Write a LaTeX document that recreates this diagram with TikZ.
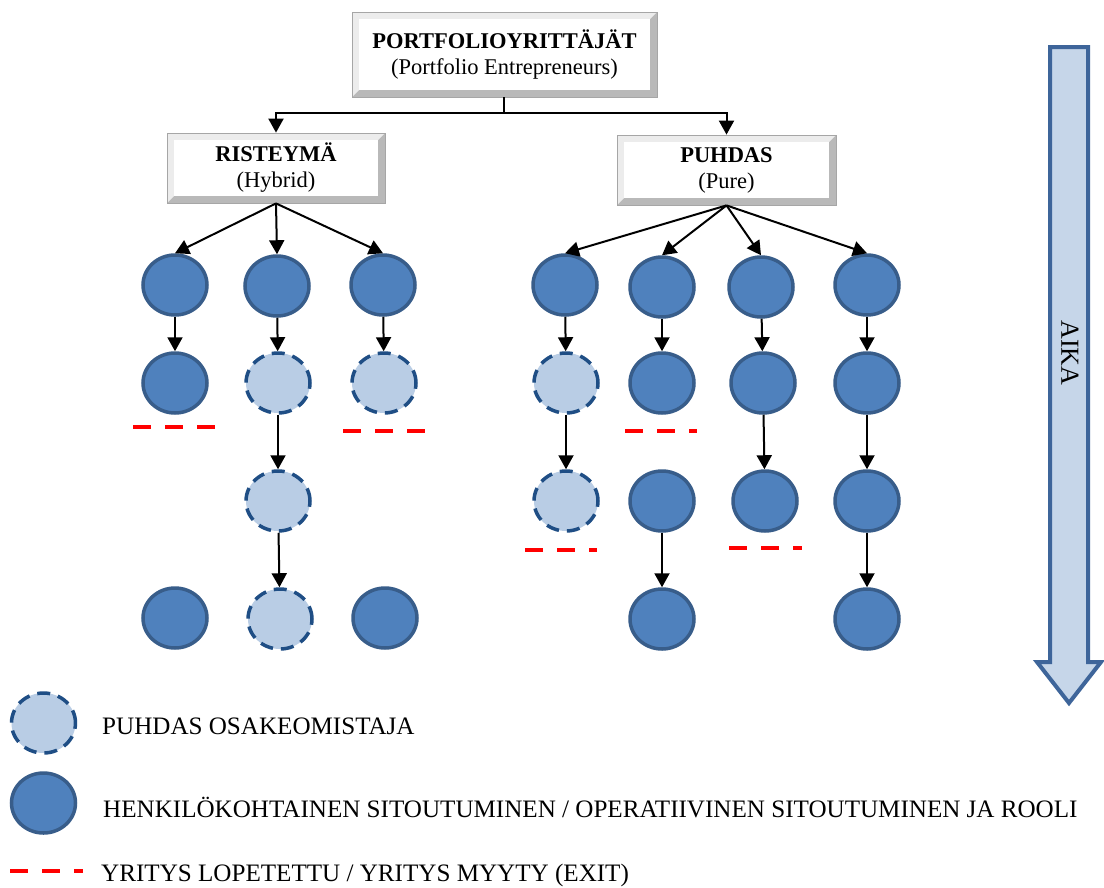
\documentclass[tikz,border=0pt]{standalone}
\usepackage{fontspec}
\setmainfont{Liberation Serif}
\usetikzlibrary{shapes.geometric,arrows.meta}
\definecolor{darkfill}{HTML}{4F81BD}
\definecolor{darkline}{HTML}{385D8A}
\definecolor{lightfill}{HTML}{B9CDE5}
\definecolor{lightline}{HTML}{1F4E85}
\definecolor{timefill}{HTML}{C6D6E9}
\definecolor{timeline}{HTML}{3E659A}
\tikzset{
  full/.style={ellipse, minimum width=64pt, minimum height=60pt, inner sep=0pt,
    fill=darkfill, draw=darkline, line width=3.5pt},
  share/.style={ellipse, minimum width=64pt, minimum height=60pt, inner sep=0pt,
    fill=lightfill, draw=lightline, line width=3.5pt, dash pattern=on 13pt off 8pt},
  arr/.style={-{Triangle[width=15pt,length=14pt]}, line width=2pt, black},
  plain/.style={line width=2pt, black},
  exitline/.style={red, line width=4pt, dash pattern=on 18pt off 14pt},
  txt/.style={font=\fontsize{22.5}{26}\selectfont},
  legtxt/.style={font=\fontsize{25.1}{29}\selectfont, anchor=base west, inner sep=0pt},
  bevelbox/.style={rectangle, inner sep=0pt, align=center, txt,
    draw=gray!70, line width=0.8pt,
    path picture={
      \fill[gray!55] (path picture bounding box.south west) rectangle (path picture bounding box.north east);
      \fill[gray!15] (path picture bounding box.south west) -- (path picture bounding box.north west)
        -- (path picture bounding box.north east) -- ([shift={(-7pt,-7pt)}]path picture bounding box.north east)
        -- ([shift={(7pt,-7pt)}]path picture bounding box.north west) -- ([shift={(7pt,7pt)}]path picture bounding box.south west) -- cycle;
      \fill[white] ([shift={(7pt,7pt)}]path picture bounding box.south west) rectangle ([shift={(-7pt,-7pt)}]path picture bounding box.north east);
    }},
}
\begin{document}
\begin{tikzpicture}[x=1pt,y=-1pt]
\useasboundingbox[fill=white] (0,0) rectangle (1104,887);

% boxes
\node[bevelbox, minimum width=305pt, minimum height=85pt] (top) at (504.5,54.5)
  {\textbf{PORTFOLIOYRITTÄJÄT}\\(Portfolio Entrepreneurs)};
\node[bevelbox, minimum width=218pt, minimum height=70pt] (hyb) at (276,168)
  {\textbf{RISTEYMÄ}\\(Hybrid)};
\node[bevelbox, minimum width=219pt, minimum height=70pt] (pur) at (726.5,170)
  {\textbf{PUHDAS}\\(Pure)};

\coordinate (j) at (504,113);
\draw[plain] (top.south -| j) -- (j);
\draw[arr] (j) -| (hyb.north);
\draw[arr] (j) -| (pur.north);

% hybrid circles
\node[full]  (h11) at (175,285) {};
\node[full]  (h12) at (175,383) {};
\node[full]  (h14) at (175,618) {};
\node[full]  (h21) at (277,286) {};
\node[share] (h22) at (278,383) {};
\node[share] (h23) at (278,501) {};
\node[share] (h24) at (280,619) {};
\node[full]  (h31) at (383,285) {};
\node[share] (h32) at (384,383) {};
\node[full]  (h34) at (385,618) {};

% pure circles
\node[full]  (p11) at (565,285) {};
\node[share] (p12) at (566,383) {};
\node[share] (p13) at (566,501) {};
\node[full]  (p21) at (662,287) {};
\node[full]  (p22) at (662,383) {};
\node[full]  (p23) at (662,501) {};
\node[full]  (p24) at (662,619) {};
\node[full]  (p31) at (761,287) {};
\node[full]  (p32) at (763,383) {};
\node[full]  (p33) at (765,501) {};
\node[full]  (p41) at (867,285) {};
\node[full]  (p42) at (867,383) {};
\node[full]  (p43) at (867,501) {};
\node[full]  (p44) at (867,619) {};

% arrows hybrid
\draw[arr] (hyb.south) -- (h11.north);
\draw[arr] (hyb.south) -- (h21.north);
\draw[arr] (hyb.south) -- (h31.north);
\draw[arr] (h11) -- (h12);
\draw[arr] (h21) -- (h22);
\draw[arr] (h22) -- (h23);
\draw[arr] (h23) -- (h24);
\draw[arr] (h31) -- (h32);

% arrows pure
\draw[arr] (pur.south) -- (p11.north);
\draw[arr] (pur.south) -- (p21.north);
\draw[arr] (pur.south) -- (p31.north);
\draw[arr] (pur.south) -- (p41.north);
\draw[arr] (p11) -- (p12);
\draw[arr] (p12) -- (p13);
\draw[arr] (p21) -- (p22);
\draw[arr] (p23) -- (p24);
\draw[arr] (p31) -- (p32);
\draw[arr] (p32) -- (p33);
\draw[arr] (p41) -- (p42);
\draw[arr] (p42) -- (p43);
\draw[arr] (p43) -- (p44);

% exits
\draw[exitline] (133,427) -- (216,427);
\draw[exitline] (343,431) -- (425,431);
\draw[exitline] (625,431) -- (697,431);
\draw[exitline] (525,550) -- (597,550);
\draw[exitline] (729,548) -- (802,548);

% time arrow
\draw[fill=timefill, draw=timeline, line width=4pt, miter limit=10]
  (1050,47) -- (1088,47) -- (1088,662) -- (1101,662) -- (1069,703) -- (1037,662) -- (1050,662) -- cycle;
\node[font=\fontsize{26}{30}\selectfont, rotate=-90] (aika) at (1070,353) {AIKA};

% legend
\node[share] (lg1) at (43.5,723) {};
\node[full]  (lg2) at (43.5,803) {};
\draw[exitline] (10,871) -- (83,871);
\node[legtxt] (t1) at (102,734) {PUHDAS OSAKEOMISTAJA};
\node[legtxt] (t2) at (103,817) {HENKILÖKOHTAINEN SITOUTUMINEN / OPERATIIVINEN SITOUTUMINEN JA ROOLI};
\node[legtxt] (t3) at (101,881) {YRITYS LOPETETTU / YRITYS MYYTY (EXIT)};
\end{tikzpicture}
\end{document}
